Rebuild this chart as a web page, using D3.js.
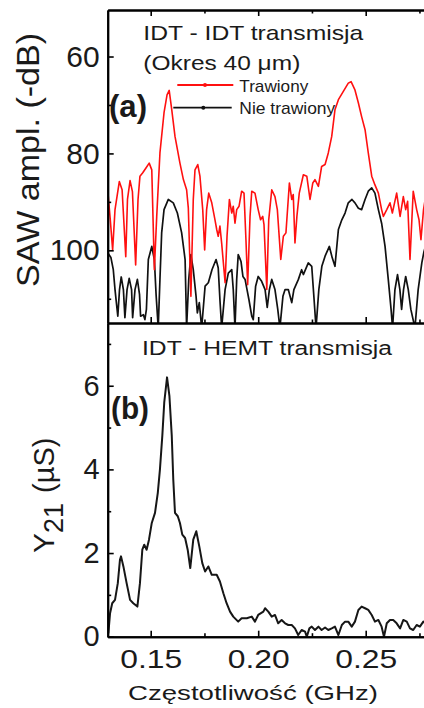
<!DOCTYPE html>
<html><head><meta charset="utf-8">
<script src="https://cdn.jsdelivr.net/npm/d3@7/dist/d3.min.js"></script>
<style>body{margin:0;background:#fff}svg{display:block}text{font-family:"Liberation Sans",Arial,sans-serif;fill:#1a1a1a}</style>
</head><body><svg id="c" width="424" height="708"></svg>
<script>
// ---- data ----
const freqRed = [0.1300,0.1312,0.1323,0.1334,0.1354,0.1367,0.1384,0.1392,0.1404,0.1415,
0.1430,0.1441,0.1450,0.1463,0.1478,0.1493,0.1505,0.1517,0.1528,0.1543,
0.1562,0.1576,0.1586,0.1598,0.1613,0.1636,0.1652,0.1667,0.1675,0.1687,
0.1698,0.1706,0.1719,0.1729,0.1742,0.1751,0.1760,0.1770,0.1784,0.1799,
0.1807,0.1814,0.1822,0.1830,0.1846,0.1855,0.1866,0.1877,0.1884,0.1892,
0.1900,0.1911,0.1923,0.1934,0.1943,0.1951,0.1962,0.1970,0.1985,0.2000,
0.2011,0.2021,0.2027,0.2040,0.2049,0.2063,0.2078,0.2089,0.2105,0.2117,
0.2129,0.2145,0.2156,0.2163,0.2171,0.2180,0.2191,0.2210,0.2226,0.2241,
0.2254,0.2264,0.2280,0.2295,0.2311,0.2326,0.2342,0.2357,0.2373,0.2396,
0.2419,0.2432,0.2450,0.2466,0.2481,0.2497,0.2512,0.2528,0.2543,0.2559,
0.2574,0.2582,0.2598,0.2613,0.2624,0.2644,0.2660,0.2675,0.2686,0.2695,
0.2706,0.2721,0.2737,0.2748,0.2757,0.2769,0.2780];
const ampRed = [87.5,93.7,99.9,91.6,85.8,87.5,101.3,89.5,85.6,87.9,
103.0,89.5,84.7,84.0,83.0,82.0,83.4,104.0,93.0,79.9,
71.6,67.9,67.0,71.0,76.5,82.0,85.4,87.5,91.3,109.5,
89.5,83.4,82.3,84.7,91.6,99.9,91.6,88.2,90.2,93.7,
95.7,97.1,95.0,98.5,106.7,97.1,89.5,92.3,90.9,94.4,
91.6,90.9,87.8,88.2,97.8,107.1,93.0,87.8,88.2,91.6,
93.7,93.0,94.7,108.1,93.7,87.5,88.9,91.6,101.9,97.1,
96.4,86.1,89.5,88.5,98.5,93.0,88.2,84.4,84.7,89.5,
86.1,85.4,86.8,82.7,82.3,79.9,76.5,71.0,68.9,67.2,
65.5,65.2,66.9,69.6,72.4,75.1,79.9,84.7,86.5,88.2,
91.6,93.0,91.6,90.2,92.3,88.2,93.0,88.9,91.6,89.9,
101.9,87.8,91.6,93.7,97.8,91.6,88.5];

const freqBlack = [0.1300,0.1315,0.1326,0.1334,0.1347,0.1355,0.1363,0.1373,0.1380,0.1390,
0.1400,0.1411,0.1416,0.1427,0.1438,0.1448,0.1453,0.1466,0.1473,0.1480,
0.1489,0.1505,0.1517,0.1525,0.1535,0.1543,0.1551,0.1562,0.1582,0.1605,
0.1624,0.1644,0.1660,0.1667,0.1677,0.1687,0.1698,0.1711,0.1717,0.1726,
0.1737,0.1753,0.1768,0.1785,0.1804,0.1814,0.1822,0.1830,0.1846,0.1861,
0.1877,0.1884,0.1892,0.1900,0.1907,0.1913,0.1920,0.1929,0.1939,0.1948,
0.1957,0.1970,0.1977,0.1988,0.2000,0.2016,0.2032,0.2042,0.2052,0.2063,
0.2078,0.2091,0.2101,0.2115,0.2125,0.2140,0.2156,0.2166,0.2187,0.2202,
0.2210,0.2233,0.2249,0.2260,0.2269,0.2282,0.2296,0.2311,0.2331,0.2344,
0.2357,0.2373,0.2389,0.2404,0.2419,0.2436,0.2450,0.2466,0.2481,0.2497,
0.2512,0.2528,0.2543,0.2559,0.2574,0.2590,0.2605,0.2618,0.2625,0.2636,
0.2648,0.2659,0.2667,0.2676,0.2686,0.2698,0.2710,0.2729,0.2744,0.2761,
0.2771,0.2785];
const ampBlack = [100.5,101.5,104.0,108.1,113.6,108.1,105.5,108.1,113.9,108.1,
105.8,108.1,113.9,108.1,106.0,109.1,113.6,113.3,114.3,112.2,
101.9,99.2,101.9,109.1,116,106.0,96.4,91.6,89.5,90.2,
92.3,96.4,101.9,116,106.0,100.9,104.0,109.5,112.9,110.8,
116,107.4,106.7,104.0,101.9,103.6,110.2,116,108.1,104.7,
104.0,108.1,116,106.0,100.9,101.5,102.3,105.4,106.0,108.1,
110.2,113.6,114.3,107.4,105.4,106.4,108.1,111.8,108.1,106.0,
108.1,112.2,116,109.5,108.1,108.1,110.8,108.1,106.0,104.0,
105.0,102.6,103.3,110.2,116,108.1,103.3,101.2,99.2,101.5,
103.3,95.7,93.7,92.3,90.2,89.5,90.2,91.3,91.6,89.5,
87.8,87.1,88.2,91.6,94.4,99.2,106.0,112.2,116,108.1,
105.0,108.1,112.2,108.1,105.4,108.1,112.2,116,108.1,102.6,
100.3,98];

const freqY21 = [0.1303,0.1311,0.1321,0.1334,0.1347,0.1357,0.1362,0.1373,0.1388,0.1404,
0.1419,0.1438,0.1450,0.1461,0.1470,0.1481,0.1492,0.1505,0.1520,0.1533,
0.1543,0.1554,0.1563,0.1576,0.1587,0.1598,0.1605,0.1613,0.1626,0.1636,
0.1647,0.1660,0.1672,0.1684,0.1698,0.1712,0.1726,0.1740,0.1753,0.1768,
0.1784,0.1807,0.1822,0.1838,0.1853,0.1869,0.1884,0.1907,0.1923,0.1947,
0.1970,0.1985,0.2000,0.2024,0.2032,0.2047,0.2063,0.2078,0.2093,0.2109,
0.2125,0.2140,0.2156,0.2171,0.2186,0.2202,0.2218,0.2226,0.2238,0.2249,
0.2264,0.2280,0.2295,0.2311,0.2326,0.2342,0.2357,0.2373,0.2389,0.2404,
0.2419,0.2435,0.2450,0.2466,0.2481,0.2497,0.2512,0.2528,0.2543,0.2559,
0.2574,0.2585,0.2598,0.2613,0.2628,0.2644,0.2660,0.2675,0.2691,0.2706,
0.2721,0.2737,0.2752,0.2768,0.2785];
const y21 = [0.08,0.56,0.80,0.88,1.28,1.84,1.92,1.68,1.28,0.88,
0.80,0.72,1.28,2.08,2.20,2.08,2.32,2.72,2.96,3.44,
4.00,4.80,5.60,6.20,5.76,4.80,3.76,2.96,2.88,2.72,
2.44,2.36,2.08,1.64,2.32,2.52,2.16,1.76,1.56,1.68,
1.48,1.48,1.32,1.04,0.80,0.60,0.48,0.36,0.44,0.44,
0.48,0.36,0.52,0.60,0.68,0.60,0.48,0.52,0.32,0.40,
0.32,0.28,0.28,0.20,0.04,0.16,0.12,0.00,0.20,0.24,
0.16,0.24,0.16,0.22,0.16,0.20,0.24,0.04,0.28,0.36,
0.36,0.24,0.36,0.64,0.72,0.68,0.64,0.52,0.36,0.40,
0.24,0.00,0.32,0.40,0.40,0.32,0.20,0.40,0.36,0.20,
0.16,0.28,0.24,0.36,0.30];

const xMajor = [0.15, 0.20, 0.25];
const xMinor = [0.175, 0.225, 0.275];
const xTickLabels = ["0.15", "0.20", "0.25"];
const yMajorA = [60, 80, 100];
const yMinorA = [70, 90, 110];
const yMajorB = [0, 2, 4, 6];
const yMinorB = [1, 3, 5, 7];
const seriesNames = ["Trawiony", "Nie trawiony"];

// ---- layout ----
const svg = d3.select("#c");
svg.append("rect").attr("width",424).attr("height",708).attr("fill","#fff");
const X0 = 107.7, X1 = 430.2, AT = 10, AB = 323, BB = 636.7;
const x = d3.scaleLinear().domain([0.13, 0.28]).range([X0, X1]);
const ya = d3.scaleLinear().domain([50.4, 115]).range([AT, AB]);
const yb = d3.scaleLinear().domain([0, 7.5]).range([BB, AB]);

const defs = svg.append("defs");
defs.append("clipPath").attr("id","clipA").append("rect")
  .attr("x",X0).attr("y",AT).attr("width",X1-X0).attr("height",AB-AT);
defs.append("clipPath").attr("id","clipB").append("rect")
  .attr("x",X0).attr("y",AB).attr("width",X1-X0).attr("height",BB-AB);

// ---- lines ----
const lineA = d3.line().x(d => x(d[0])).y(d => ya(d[1]));
const lineB = d3.line().x(d => x(d[0])).y(d => yb(d[1]));
const gA = svg.append("g").attr("clip-path","url(#clipA)");
gA.append("path").datum(d3.zip(freqBlack, ampBlack))
  .attr("d", lineA).attr("fill","none").attr("stroke","#111").attr("stroke-width",1.7).attr("stroke-linejoin","round");
gA.append("path").datum(d3.zip(freqRed, ampRed))
  .attr("d", lineA).attr("fill","none").attr("stroke","#ff1010").attr("stroke-width",1.6).attr("stroke-linejoin","round");
const gB = svg.append("g").attr("clip-path","url(#clipB)");
gB.append("path").datum(d3.zip(freqY21, y21))
  .attr("d", lineB).attr("fill","none").attr("stroke","#161616").attr("stroke-width",2).attr("stroke-linejoin","round");

// ---- axes ----
function styleAxis(g, fs){
  g.select(".domain").attr("stroke","#000").attr("stroke-width",2);
  g.selectAll(".tick line").attr("stroke","#000").attr("stroke-width",1.6);
  g.selectAll("text").attr("font-size",fs).attr("fill","#1a1a1a")
    .style("font-family","'Liberation Sans',Arial,sans-serif");
}
// panel a
let g;
g = svg.append("g").attr("transform",`translate(${X0},0)`)
  .call(d3.axisLeft(ya).tickValues(yMajorA).tickSize(-6).tickSizeOuter(0).tickPadding(8));
styleAxis(g, 30);
g = svg.append("g").attr("transform",`translate(${X0},0)`)
  .call(d3.axisLeft(ya).tickValues(yMinorA).tickSize(-3.5).tickSizeOuter(0).tickFormat(""));
styleAxis(g, 0);
g = svg.append("g").attr("transform",`translate(0,${AT})`)
  .call(d3.axisTop(x).tickValues(xMajor).tickSize(-6).tickSizeOuter(0).tickFormat(""));
styleAxis(g, 0);
g = svg.append("g").attr("transform",`translate(0,${AT})`)
  .call(d3.axisTop(x).tickValues(xMinor).tickSize(-3.5).tickSizeOuter(0).tickFormat(""));
styleAxis(g, 0);
g = svg.append("g").attr("transform",`translate(0,${AB})`)
  .call(d3.axisBottom(x).tickValues(xMajor).tickSize(-6).tickSizeOuter(0).tickFormat(""));
styleAxis(g, 0);
g = svg.append("g").attr("transform",`translate(0,${AB})`)
  .call(d3.axisBottom(x).tickValues(xMinor).tickSize(-3.5).tickSizeOuter(0).tickFormat(""));
styleAxis(g, 0);
// panel b
g = svg.append("g").attr("transform",`translate(${X0},0)`)
  .call(d3.axisLeft(yb).tickValues(yMajorB).tickSize(-6).tickSizeOuter(0).tickPadding(8));
styleAxis(g, 29);
g = svg.append("g").attr("transform",`translate(${X0},0)`)
  .call(d3.axisLeft(yb).tickValues(yMinorB).tickSize(-3.5).tickSizeOuter(0).tickFormat(""));
styleAxis(g, 0);
g = svg.append("g").attr("transform",`translate(0,${BB})`)
  .call(d3.axisBottom(x).tickValues(xMajor).tickSize(-6).tickSizeOuter(0).tickPadding(13)
    .tickFormat((d,i) => xTickLabels[i]));
styleAxis(g, 26);
g.selectAll("text").attr("textLength",62).attr("lengthAdjust","spacingAndGlyphs");
g = svg.append("g").attr("transform",`translate(0,${BB})`)
  .call(d3.axisBottom(x).tickValues(xMinor).tickSize(-3.5).tickSizeOuter(0).tickFormat(""));
styleAxis(g, 0);
// right frame (mostly off-canvas)
svg.append("line").attr("x1",X1).attr("x2",X1).attr("y1",AT).attr("y2",BB).attr("stroke","#000").attr("stroke-width",2);

// ---- texts ----
svg.append("text").attr("transform","translate(38.5,160) rotate(-90)")
  .attr("text-anchor","middle").attr("font-size",32)
  .attr("textLength",254).attr("lengthAdjust","spacingAndGlyphs").text("SAW ampl. (-dB)");

const yt = svg.append("text").attr("transform","translate(54,553) rotate(-90)").attr("font-size",30);
yt.append("tspan").text("Y");
yt.append("tspan").attr("font-size",27).attr("dy",9).text("21");
yt.append("tspan").attr("font-size",29).attr("dy",-9).attr("dx",10).text("(µS)");

svg.append("text").attr("x",253).attr("y",700).attr("text-anchor","middle").attr("font-size",21)
  .attr("textLength",250).attr("lengthAdjust","spacingAndGlyphs").text("Częstotliwość (GHz)");

svg.append("text").attr("x",143.3).attr("y",40).attr("font-size",21)
  .attr("textLength",220).attr("lengthAdjust","spacingAndGlyphs").text("IDT - IDT transmisja");
svg.append("text").attr("x",143.3).attr("y",70).attr("font-size",21)
  .attr("textLength",157).attr("lengthAdjust","spacingAndGlyphs").text("(Okres 40 μm)");
svg.append("text").attr("x",142).attr("y",355).attr("font-size",20)
  .attr("textLength",250).attr("lengthAdjust","spacingAndGlyphs").text("IDT - HEMT transmisja");

svg.append("text").attr("x",109).attr("y",117).attr("font-size",31).attr("font-weight","bold")
  .attr("textLength",38).attr("lengthAdjust","spacingAndGlyphs").text("(a)");
svg.append("text").attr("x",111).attr("y",419).attr("font-size",31).attr("font-weight","bold")
  .attr("textLength",38).attr("lengthAdjust","spacingAndGlyphs").text("(b)");

// legend
const legend = [
  {name: seriesNames[0], color:"#ff1010", x1:177.3, x2:233.3, y:85, dot:205, ty:91.5, tl:69},
  {name: seriesNames[1], color:"#111", x1:173.3, x2:231.7, y:107.7, dot:203.3, ty:113.5, tl:96}
];
legend.forEach(l => {
  svg.append("line").attr("x1",l.x1).attr("x2",l.x2).attr("y1",l.y).attr("y2",l.y)
    .attr("stroke",l.color).attr("stroke-width",1.8);
  svg.append("circle").attr("cx",l.dot).attr("cy",l.y).attr("r",2).attr("fill",l.color);
  svg.append("text").attr("x",239.3).attr("y",l.ty).attr("font-size",17)
    .attr("textLength",l.tl).attr("lengthAdjust","spacingAndGlyphs").text(l.name);
});
</script></body></html>
